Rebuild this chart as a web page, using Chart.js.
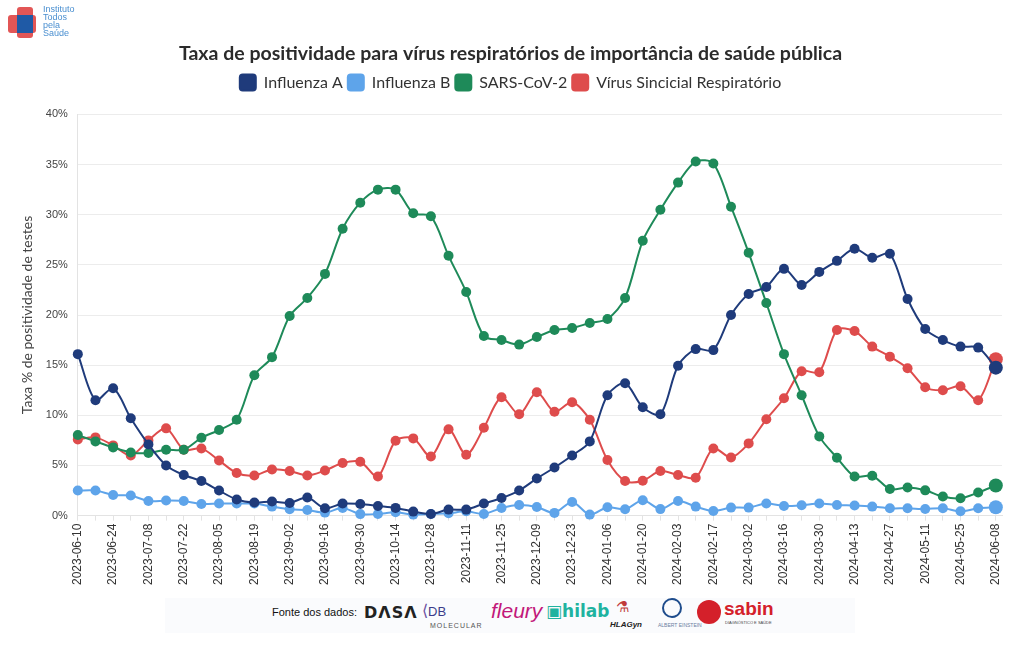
<!DOCTYPE html>
<html>
<head>
<meta charset="utf-8">
<script src="https://cdn.jsdelivr.net/npm/chart.js@4/dist/chart.umd.min.js"></script>
<style>
  html,body{margin:0;padding:0;background:#fff;width:1020px;height:650px;overflow:hidden;font-family:Lato,"Open Sans",sans-serif;}
  #wrap{position:absolute;left:0;top:0;width:1020px;height:650px;}
  .abs{position:absolute;white-space:nowrap;}
</style>
</head>
<body>
<div id="wrap"><canvas id="c" width="1020" height="650"></canvas></div>

<!-- logo -->
<div class="abs" style="left:8px;top:15px;width:28px;height:18px;background:#e25656;border-radius:3px;"></div>
<div class="abs" style="left:17px;top:7px;width:16px;height:31px;background:#e25656;border-radius:3px;"></div>
<div class="abs" style="left:17px;top:15px;width:16px;height:18px;background:#1f5aa6;"></div>
<div class="abs" style="left:43px;top:5px;font:9px/8px 'Liberation Sans',Arial,sans-serif;color:#4a8fd0;">Instituto<br>Todos<br>pela<br>Saúde</div>

<!-- footer -->
<div class="abs" style="left:165px;top:598px;width:690px;height:35px;background:#fafbfd;"></div>
<div class="abs" style="left:272px;top:606px;font:11px 'Liberation Sans',Arial,sans-serif;color:#111;">Fonte dos dados:</div>
<div class="abs" style="left:364px;top:603px;font:bold 16px 'DejaVu Sans',sans-serif;color:#222;letter-spacing:1px;">DΛSΛ</div>
<div class="abs" style="left:422px;top:601px;font:16px 'Liberation Sans',sans-serif;color:#6a4fa0;">⟨<span style="font-size:13px;color:#3b3b8a">DB</span></div>
<div class="abs" style="left:430px;top:622px;font:7px 'Liberation Sans',sans-serif;color:#555;letter-spacing:1px;">MOLECULAR</div>
<div class="abs" style="left:491px;top:599px;font:italic 21px 'Liberation Sans',sans-serif;color:#c2187a;">fleury</div>
<div class="abs" style="left:546px;top:601px;font:bold 17px 'DejaVu Sans',sans-serif;color:#1fb3a0;">▣hilab</div>
<div class="abs" style="left:616px;top:598px;font:15px sans-serif;color:#c03a3a;">⚗</div>
<div class="abs" style="left:610px;top:620px;font:bold italic 8px 'Liberation Sans',sans-serif;color:#222;">HLAGyn</div>
<div class="abs" style="left:662px;top:598px;width:20px;height:20px;border:2px solid #1e4c8c;border-radius:50%;box-sizing:border-box;"></div>
<div class="abs" style="left:658px;top:622px;font:5px 'Liberation Sans',sans-serif;color:#6a7ea0;">ALBERT EINSTEIN</div>
<div class="abs" style="left:697px;top:600px;width:24px;height:24px;background:#d4202a;border-radius:50%;"></div>
<div class="abs" style="left:724px;top:598px;font:bold 19px 'Liberation Sans',sans-serif;color:#d4202a;">sabin</div>
<div class="abs" style="left:725px;top:620px;font:4px 'Liberation Sans',sans-serif;color:#444;">DIAGNÓSTICO E SAÚDE</div>

<script>
const weeks = ["2023-06-10","2023-06-17","2023-06-24","2023-07-01","2023-07-08","2023-07-15","2023-07-22","2023-07-29","2023-08-05","2023-08-12","2023-08-19","2023-08-26","2023-09-02","2023-09-09","2023-09-16","2023-09-23","2023-09-30","2023-10-07","2023-10-14","2023-10-21","2023-10-28","2023-11-04","2023-11-11","2023-11-18","2023-11-25","2023-12-02","2023-12-09","2023-12-16","2023-12-23","2023-12-30","2024-01-06","2024-01-13","2024-01-20","2024-01-27","2024-02-03","2024-02-10","2024-02-17","2024-02-24","2024-03-02","2024-03-09","2024-03-16","2024-03-23","2024-03-30","2024-04-06","2024-04-13","2024-04-20","2024-04-27","2024-05-04","2024-05-11","2024-05-18","2024-05-25","2024-06-01","2024-06-08"];

const influenzaA = [16.1,11.5,12.7,9.7,7.1,5.0,4.05,3.45,2.5,1.6,1.3,1.4,1.26,1.8,0.73,1.2,1.15,0.96,0.77,0.4,0.17,0.6,0.6,1.2,1.76,2.5,3.7,4.8,6.0,7.4,12.0,13.2,10.8,10.1,14.95,16.6,16.5,20.0,22.1,22.8,24.6,23.0,24.3,25.4,26.6,25.7,26.1,21.6,18.6,17.5,16.85,16.75,14.75];
const influenzaB = [2.5,2.5,2.06,2.0,1.46,1.5,1.46,1.16,1.2,1.2,1.2,0.9,0.63,0.56,0.3,0.76,0.15,0.17,0.33,0.1,0.17,0.23,0.43,0.17,0.76,1.06,0.86,0.27,1.36,0.1,0.83,0.63,1.53,0.65,1.45,0.9,0.46,0.8,0.8,1.2,0.96,1.03,1.2,1.06,1.0,0.9,0.73,0.73,0.66,0.73,0.43,0.73,0.83];
const sarsCoV2 = [8.03,7.4,6.8,6.3,6.24,6.57,6.57,7.76,8.53,9.55,14.0,15.8,19.9,21.7,24.1,28.6,31.2,32.5,32.5,30.15,29.85,25.9,22.3,17.9,17.5,17.05,17.8,18.5,18.7,19.2,19.6,21.7,27.4,30.5,33.2,35.3,35.1,30.8,26.2,21.2,16.1,12.0,7.9,5.77,3.9,3.98,2.65,2.8,2.52,1.9,1.73,2.3,3.0];
const rsv = [7.6,7.8,7.0,6.0,7.5,8.7,6.57,6.7,5.5,4.25,4.0,4.6,4.45,4.0,4.5,5.24,5.37,3.9,7.46,7.7,5.9,8.6,6.07,8.76,11.8,10.1,12.3,10.35,11.3,9.55,5.54,3.45,3.48,4.45,4.05,3.78,6.7,5.8,7.2,9.6,11.7,14.4,14.3,18.5,18.4,16.85,15.85,14.7,12.8,12.5,12.9,11.5,15.6];

const seriesNames = ["Influenza A","Influenza B","SARS-CoV-2","Vírus Sincicial Respiratório"];
const seriesColors = ["#1f3b7b","#5ea4ea","#1e8a59","#de4c4c"];
const seriesData = [influenzaA, influenzaB, sarsCoV2, rsv];
const yTicks = [0,5,10,15,20,25,30,35,40];

const datasets = seriesData.map((arr, k) => ({
  label: seriesNames[k],
  data: arr.map((v, i) => ({x: i, y: v})),
  borderColor: seriesColors[k],
  backgroundColor: seriesColors[k],
  borderWidth: 2,
  tension: 0.3,
  pointRadius: ctx => ctx.dataIndex === arr.length - 1 ? 7 : 5,
  pointHoverRadius: 5,
  pointBorderWidth: 0,
  clip: false
}));

const legendGap = {
  id: 'legendGap',
  beforeInit(chart) {
    const origFit = chart.legend.fit;
    chart.legend.fit = function () { origFit.call(this); this.height += 14; };
  }
};

new Chart(document.getElementById('c'), {
  type: 'line',
  data: { datasets },
  plugins: [legendGap],
  options: {
    responsive: false,
    animation: false,
    events: [],
    layout: { padding: { left: 19, right: 18, top: 42, bottom: 62 } },
    plugins: {
      title: {
        display: true,
        text: "Taxa de positividade para vírus respiratórios de importância de saúde pública",
        color: '#2b2b2b',
        font: { family: 'Lato', size: 19.5, weight: 'bold' },
        padding: { top: 0, bottom: 4 }
      },
      legend: {
        display: true,
        labels: {
          color: '#333',
          font: { family: 'Lato', size: 16 },
          boxWidth: 16,
          boxHeight: 16,
          useBorderRadius: true,
          borderRadius: 3,
          padding: 5
        }
      },
      tooltip: { enabled: false }
    },
    scales: {
      x: {
        type: 'linear',
        min: 0,
        max: 52.35,
        afterBuildTicks: axis => { axis.ticks = weeks.map((w, i) => ({ value: i })); },
        ticks: {
          autoSkip: false,
          maxRotation: 90,
          minRotation: 90,
          color: '#333',
          font: { family: "'Liberation Sans', Arial, sans-serif", size: 12 },
          padding: 3,
          callback: (v) => (v % 2 === 0 ? weeks[v] : '')
        },
        grid: { drawOnChartArea: false, drawTicks: true, tickLength: 5, color: '#e3e3e3' },
        border: { display: true, color: '#e3e3e3' }
      },
      y: {
        min: 0,
        max: 40,
        afterBuildTicks: axis => { axis.ticks = yTicks.map(v => ({ value: v })); },
        title: {
          display: true,
          text: 'Taxa % de positividade de testes',
          color: '#444',
          font: { family: 'Lato', size: 14 },
          padding: { top: 0, bottom: 0 }
        },
        ticks: {
          color: '#444',
          font: { family: "'Liberation Sans', Arial, sans-serif", size: 11 },
          padding: 10,
          callback: v => v + '%'
        },
        grid: { color: '#ececec', drawTicks: false },
        border: { display: true, color: '#e3e3e3' }
      }
    }
  }
});
</script>
</body>
</html>
